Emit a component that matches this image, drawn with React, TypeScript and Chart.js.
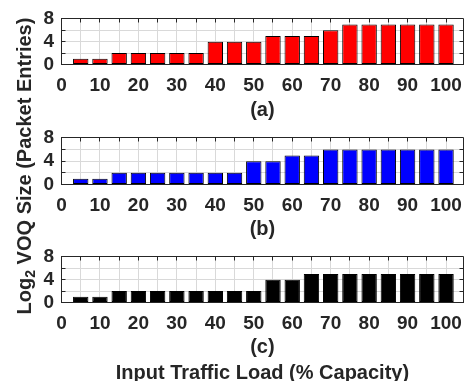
import React, { useEffect, useRef } from "react";
import { Chart, registerables } from "chart.js";

Chart.register(...registerables);

// ---- data ----
const loads = [5, 10, 15, 20, 25, 30, 35, 40, 45, 50, 55, 60, 65, 70, 75, 80, 85, 90, 95, 100];
const queueA = [1, 1, 2, 2, 2, 2, 2, 4, 4, 4, 5, 5, 5, 6, 7, 7, 7, 7, 7, 7];
const queueB = [1, 1, 2, 2, 2, 2, 2, 2, 2, 4, 4, 5, 5, 6, 6, 6, 6, 6, 6, 6];
const queueC = [1, 1, 2, 2, 2, 2, 2, 2, 2, 2, 4, 4, 5, 5, 5, 5, 5, 5, 5, 5];
const xTickLabels = [0, 10, 20, 30, 40, 50, 60, 70, 80, 90, 100];
const yTickLabels = [0, 4, 8];
const panelLabels = ["(a)", "(b)", "(c)"];
const xAxisTitle = "Input Traffic Load (% Capacity)";
const yTitleMain = "Log";
const yTitleSub = "2";
const yTitleRest = " VOQ Size (Packet Entries)";
const barColors = ["#ff0000", "#0000ff", "#000000"];

const FONT = '"Liberation Sans", Arial, Helvetica, sans-serif';
const INK = "#262626";
const GRID = "#d9d9d9";

const al = (p: number) => Math.round(p - 0.5) + 0.5;

const boxPlugin = {
  id: "matlabBox",
  beforeDatasetsDraw(chart: any) {
    const { ctx, chartArea, scales } = chart;
    const { left, right, top, bottom } = chartArea;
    const x = scales.x;
    const y = scales.y;
    const T = 4;
    ctx.save();
    ctx.strokeStyle = INK;
    ctx.lineWidth = 1;
    ctx.beginPath();
    const tY = al(top);
    const rX = al(right);
    ctx.moveTo(al(left), tY);
    ctx.lineTo(rX, tY);
    ctx.moveTo(rX, tY);
    ctx.lineTo(rX, al(bottom));
    x.ticks.forEach((t: any) => {
      if (t.value <= 0) return;
      const px = al(x.getPixelForValue(t.value));
      ctx.moveTo(px, tY);
      ctx.lineTo(px, tY + T);
      ctx.moveTo(px, al(bottom));
      ctx.lineTo(px, al(bottom) - T);
    });
    y.ticks.forEach((t: any) => {
      if (t.value <= 0 || t.value >= 8) return;
      const py = al(y.getPixelForValue(t.value));
      ctx.moveTo(al(left), py);
      ctx.lineTo(al(left) + T, py);
      ctx.moveTo(rX, py);
      ctx.lineTo(rX - T, py);
    });
    ctx.stroke();
    ctx.restore();
  },
};

type Spec = { top: number; canvasTop: number; height: number; plotBottom: number };

function makeConfig(values: number[], color: string, title: string | string[], spec: Spec): any {
  const tickFont = { family: FONT, size: 19, weight: "bold" as const };
  return {
    type: "bar",
    data: {
      datasets: [
        {
          data: loads.map((x, i) => ({ x, y: values[i] })),
          backgroundColor: color,
          borderColor: "#000000",
          borderWidth: 1,
          borderSkipped: false,
          barPercentage: 0.8,
          categoryPercentage: 1,
        },
      ],
    },
    options: {
      responsive: false,
      animation: false,
      events: [],
      layout: { padding: { left: 0, right: 2.5, top: spec.top, bottom: 0 } },
      plugins: { legend: { display: false }, tooltip: { enabled: false } },
      scales: {
        x: {
          type: "linear",
          min: 0,
          max: 104.5,
          offset: false,
          grid: { color: GRID, lineWidth: 1, drawTicks: false, offset: false },
          border: { display: true, color: INK, width: 1 },
          ticks: {
            stepSize: 5,
            autoSkip: false,
            maxRotation: 0,
            minRotation: 0,
            includeBounds: false,
            padding: 10,
            color: INK,
            font: tickFont,
            callback: (v: number) => (xTickLabels.includes(v) ? String(v) : ""),
          },
          title: {
            display: true,
            text: title,
            color: INK,
            font: { family: FONT, size: 20, weight: "bold", lineHeight: 1.28 },
            padding: { top: 0, bottom: 2 },
          },
          afterFit: (s: any) => {
            s.height = spec.height - spec.plotBottom;
          },
        },
        y: {
          type: "linear",
          min: 0,
          max: 8,
          grid: { color: GRID, lineWidth: 1, drawTicks: false },
          border: { display: true, color: INK, width: 1 },
          ticks: {
            stepSize: 2,
            autoSkip: false,
            includeBounds: true,
            padding: 7.5,
            color: INK,
            font: tickFont,
            callback: (v: number) => (yTickLabels.includes(v) ? String(v) : ""),
          },
          afterFit: (s: any) => {
            s.width = 61.5;
          },
        },
      },
    },
    plugins: [boxPlugin],
  };
}

const specs: Spec[] = [
  { canvasTop: 0, height: 125, top: 15.5, plotBottom: 64.5 },
  { canvasTop: 119, height: 125, top: 16, plotBottom: 65.5 },
  { canvasTop: 238, height: 150, top: 16, plotBottom: 64.5 },
];

export default function App() {
  const refA = useRef<HTMLCanvasElement>(null);
  const refB = useRef<HTMLCanvasElement>(null);
  const refC = useRef<HTMLCanvasElement>(null);

  useEffect(() => {
    const series = [queueA, queueB, queueC];
    const refs = [refA, refB, refC];
    const titles: (string | string[])[] = [panelLabels[0], panelLabels[1], [panelLabels[2], xAxisTitle]];
    const charts = refs.map((r, i) =>
      new Chart(r.current as HTMLCanvasElement, makeConfig(series[i], barColors[i], titles[i], specs[i]))
    );
    return () => charts.forEach((c) => c.destroy());
  }, []);

  const refs = [refA, refB, refC];
  return (
    <div
      style={{
        position: "fixed",
        left: 0,
        top: 0,
        width: 472,
        height: 381,
        overflow: "hidden",
        background: "#ffffff",
      }}
    >
      {specs.map((s, i) => (
        <canvas
          key={i}
          ref={refs[i]}
          width={472}
          height={s.height}
          style={{ position: "absolute", left: 0, top: s.canvasTop, width: 472, height: s.height }}
        />
      ))}
      <div
        style={{
          position: "absolute",
          left: 24 - 200,
          top: 166 - 10,
          width: 400,
          height: 20,
          lineHeight: "20px",
          textAlign: "center",
          whiteSpace: "nowrap",
          transform: "rotate(-90deg)",
          fontFamily: FONT,
          fontWeight: "bold",
          fontSize: 20,
          color: INK,
        }}
      >
        {yTitleMain}
        <span style={{ fontSize: 14, position: "relative", top: 4, lineHeight: 0 }}>{yTitleSub}</span>
        {yTitleRest}
      </div>
    </div>
  );
}
